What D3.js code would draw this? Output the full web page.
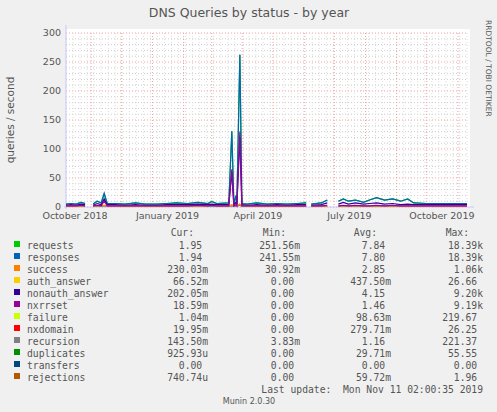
<!DOCTYPE html>
<html><head><meta charset="utf-8">
<script src="https://d3js.org/d3.v7.min.js"></script>
<style>
body{margin:0;background:#f0f0f0;}
text{font-family:"DejaVu Sans",sans-serif;fill:#555;}
.mono{font-family:"DejaVu Sans Mono",monospace;font-size:9.7px;white-space:pre;}
</style></head><body>
<div id="chart"></div>
<script>
// data
let dates = ["2018-10-07","2018-10-12","2018-10-17","2018-10-22","2018-10-26","2018-10-29","2018-11-03","2018-11-07","2018-11-11","2018-11-14","2018-11-17","2018-11-25","2018-12-05","2018-12-15","2018-12-25","2019-01-05","2019-01-15","2019-01-25","2019-02-05","2019-02-15","2019-02-25","2019-03-01","2019-03-06","2019-03-18","2019-03-21","2019-03-23","2019-03-25","2019-03-26","2019-03-29","2019-03-31","2019-04-05","2019-04-15","2019-04-25","2019-05-05","2019-05-15","2019-05-25","2019-06-03","2019-06-06","2019-06-08","2019-06-18","2019-06-24","2019-06-27","2019-07-05","2019-07-10","2019-07-15","2019-07-22","2019-07-30","2019-08-05","2019-08-12","2019-08-20","2019-08-28","2019-09-05","2019-09-12","2019-09-18","2019-10-01","2019-10-15","2019-11-01","2019-11-10"]
let requests  = [5,6,5,8,6,null,5,10,7,22,6,6,5,7,5,5,6,7,6,8,6,10,6,7,130,5,20,5,262,6,5,7,5,6,5,6,7,null,5,7,12,null,10,14,10,12,8,12,16,12,14,10,14,7,6,6,6,6]
let responses = [5,6,5,8,6,null,5,10,7,24,6,6,5,7,5,5,6,7,6,8,6,9,6,7,131,5,19,5,263,6,5,7,5,6,5,6,7,null,5,7,12,null,10,14,10,12,8,12,16,12,14,10,14,7,6,6,6,6]
let nonauth   = [3,4,3,5,4,null,3,6,4,14,4,4,3,4,3,3,4,4,4,5,4,5,4,4,60,3,8,3,120,4,3,4,3,4,3,4,4,null,3,4,7,null,5,8,5,7,5,6,7,5,6,4,5,4,4,4,4,4]
let nxrrset   = [2,2,2,3,2,null,2,3,2,10,2,2,2,2,2,2,2,2,2,3,2,3,2,2,65,2,4,2,130,2,2,2,2,2,2,2,2,null,2,2,3,null,2,3,2,3,2,2,3,2,3,2,2,2,2,2,2,2]
let success   = [1.5,2,1.5,2,2,null,1.5,2,2,3,2,2,1.5,2,1.5,1.5,2,2,2,2,2,3,2,2,4,2,3,2,5,2,1.5,2,1.5,2,1.5,2,2,null,1.5,2,2,null,2,2,2,2,2,2,2,2,2,2,2,2,2,2,2,2]
let recursion = [1,1,1,1,1,null,1,1,1,2,1,1,1,1,1,1,1,1,1,1,1,1,1,1,2,1,1,1,3,1,1,1,1,1,1,1,1,null,1,1,1,null,1,1,1,1,1,1,1,1,1,1,1,1,1,1,1,1]
let yTicks = [0,50,100,150,200,250,300]
let monthLabels = [["2018-10-16","October 2018"],["2019-01-16","January 2019"],["2019-04-16","April 2019"],["2019-07-16","July 2019"],["2019-10-16","October 2019"]]

let names  = ["requests","responses","success","auth_answer","nonauth_answer","nxrrset","failure","nxdomain","recursion","duplicates","transfers","rejections"]
let colors = ["#00cc00","#0066b3","#ff8000","#ffcc00","#330099","#990099","#ccff00","#ff0000","#808080","#008f00","#00487d","#b35a00"]
let cur = ["1.95","1.94","230.03m","66.52m","202.05m","18.59m","1.04m","19.95m","143.50m","925.93u","0.00","740.74u"]
let min = ["251.56m","241.55m","30.92m","0.00","0.00","0.00","0.00","0.00","3.83m","0.00","0.00","0.00"]
let avg = ["7.84","7.80","2.85","437.50m","4.15","1.46","98.63m","279.71m","1.16","29.71m","0.00","59.72m"]
let max = ["18.39k","18.39k","1.06k","26.66","9.20k","9.19k","219.67","26.25","221.37","55.55","0.00","1.96"]

let totalWidth = 497, totalHeight = 412
let plot = {left: 66, right: 468, top: 33, bottom: 207}
let parse = d3.timeParse("%Y-%m-%d")

let svg = d3.select("#chart").append("svg")
    .attr("width", totalWidth).attr("height", totalHeight)

let xScale = d3.scaleTime()
    .domain([parse("2018-10-07"), parse("2019-11-11")])
    .range([plot.left, plot.right])
let yScale = d3.scaleLinear().domain([0, 300]).range([plot.bottom, plot.top])

svg.append("rect").attr("x", plot.left).attr("y", plot.top - 4)
    .attr("width", plot.right - plot.left + 2).attr("height", plot.bottom - plot.top + 4)
    .attr("fill", "#fff")

// grid
let g = svg.append("g")
d3.range(0, 301, 10).forEach(v => {
    g.append("line").attr("x1", plot.left).attr("x2", plot.right)
        .attr("y1", yScale(v)).attr("y2", yScale(v))
        .attr("stroke", v % 50 ? "#ccc" : "#f4a0a0").attr("stroke-dasharray", "1,2")
})
d3.timeWeek.range(xScale.domain()[0], xScale.domain()[1]).forEach(d => {
    g.append("line").attr("x1", xScale(d)).attr("x2", xScale(d))
        .attr("y1", plot.top).attr("y2", plot.bottom)
        .attr("stroke", "#ddd").attr("stroke-dasharray", "1,2")
})
d3.timeMonth.range(xScale.domain()[0], xScale.domain()[1]).forEach(d => {
    g.append("line").attr("x1", xScale(d)).attr("x2", xScale(d))
        .attr("y1", plot.top).attr("y2", plot.bottom)
        .attr("stroke", "#f4a0a0").attr("stroke-dasharray", "1,2")
})

// axes lines
svg.append("line").attr("x1", plot.left - 2).attr("x2", plot.right + 6)
    .attr("y1", plot.bottom).attr("y2", plot.bottom).attr("stroke", "#c8c8ff")
svg.append("line").attr("x1", plot.left).attr("x2", plot.left)
    .attr("y1", plot.bottom + 2).attr("y2", plot.top - 8).attr("stroke", "#c8c8ff")

yTicks.forEach(v => {
    svg.append("text").attr("x", plot.left - 5).attr("y", yScale(v) + 3)
        .attr("text-anchor", "end").attr("font-size", 9.5).text(v)
})
monthLabels.forEach(m => {
    svg.append("text").attr("x", xScale(parse(m[0]))).attr("y", plot.bottom + 12)
        .attr("text-anchor", "middle").attr("font-size", 9.5).text(m[1])
})

// series lines
let pts = dates.map(parse)
let line = d3.line().defined(d => d[1] !== null)
    .x(d => xScale(d[0])).y(d => yScale(d[1]))
;[[recursion,8],[success,2],[requests,0],[responses,1],[nonauth,4],[nxrrset,5]].forEach(s => {
    svg.append("path").datum(pts.map((d, i) => [d, s[0][i]]))
        .attr("d", line).attr("fill", "none")
        .attr("stroke", colors[s[1]]).attr("stroke-width", 1.2)
})

// titles
svg.append("text").attr("x", 249).attr("y", 17).attr("text-anchor", "middle")
    .attr("font-size", 12.5).attr("fill", "#333").text("DNS Queries by status - by year")
svg.append("text").attr("transform", "translate(14,120) rotate(-90)")
    .attr("text-anchor", "middle").attr("font-size", 10.5).text("queries / second")
svg.append("text").attr("transform", "translate(486,20) rotate(90)")
    .attr("font-size", 7.5).attr("fill", "#aaa").text("RRDTOOL / TOBI OETIKER")

// legend
let heads = [["Cur:",194],["Min:",286],["Avg:",377],["Max:",469]]
heads.forEach(h => svg.append("text").attr("class", "mono").attr("x", h[1]).attr("y", 236)
    .attr("text-anchor", "end").text(h[0]))
let cols = [[cur,208],[min,300],[avg,391],[max,483]]
names.forEach((n, i) => {
    let y = 249 + i * 12
    svg.append("rect").attr("x", 14).attr("y", y - 8).attr("width", 6).attr("height", 6)
        .attr("fill", colors[i])
    svg.append("text").attr("class", "mono").attr("x", 27).attr("y", y).text(n)
    cols.forEach(c => {
        let v = c[0][i]
        let s = /[a-z]$/.test(v) ? v : v + " "
        svg.append("text").attr("class", "mono").attr("x", c[1]).attr("y", y)
            .attr("text-anchor", "end").text(s)
    })
})
svg.append("text").attr("class", "mono").attr("x", 483).attr("y", 393)
    .attr("text-anchor", "end").text("Last update:  Mon Nov 11 02:00:35 2019")
svg.append("text").attr("x", 249).attr("y", 404).attr("text-anchor", "middle")
    .attr("font-size", 8).attr("fill", "#bbb").text("Munin 2.0.30")
</script>
</body></html>
